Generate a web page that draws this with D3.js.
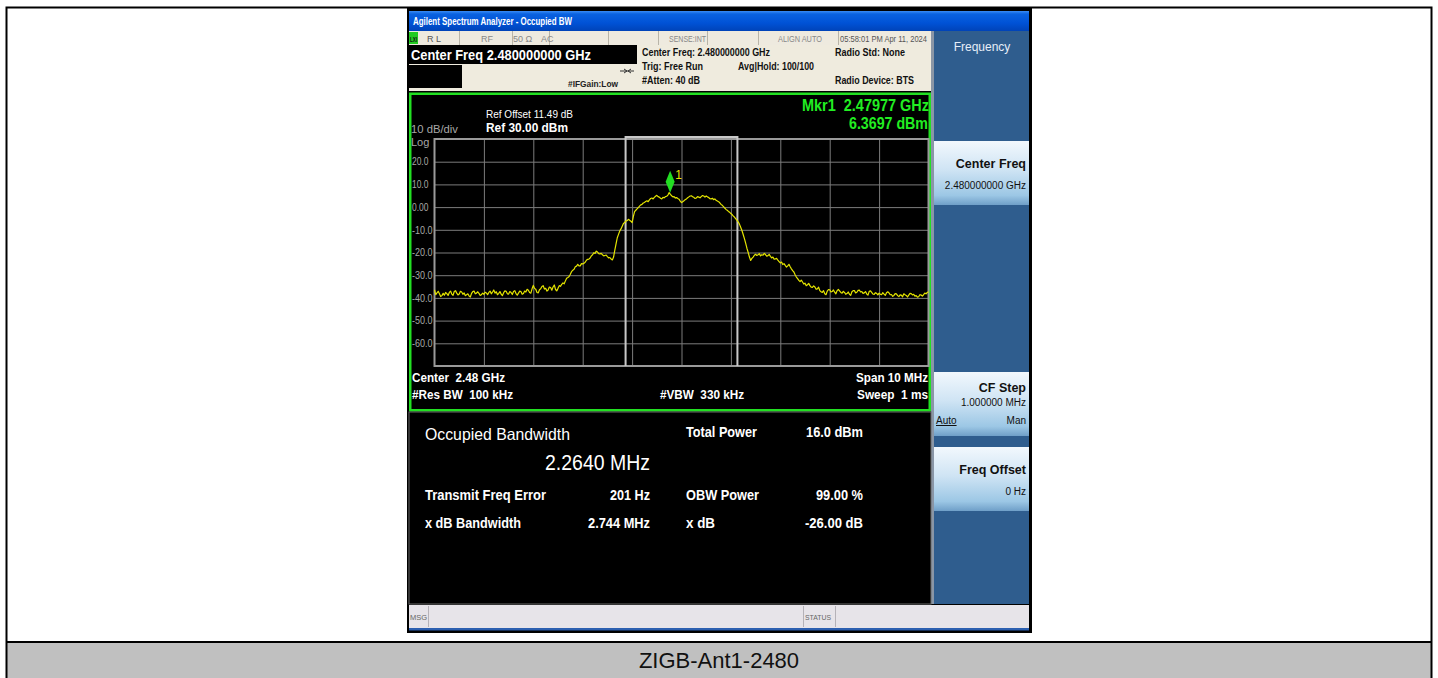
<!DOCTYPE html>
<html><head><meta charset="utf-8">
<script src="https://cdn.jsdelivr.net/npm/d3@7"></script>
<style>html,body{margin:0;padding:0;background:#fff;}svg{display:block;}</style>
</head><body>
<svg id="c" width="1438" height="678"></svg>
<script>
// ---------------- data ----------------
const centerFreqGHz = 2.48;
const spanMHz = 10;
const refLevelDbm = 30;
const dbPerDiv = 10;
const yTickValues = [20, 10, 0, -10, -20, -30, -40, -50, -60];
const yTickLabels = ["20.0", "10.0", "0.00", "-10.0", "-20.0", "-30.0", "-40.0", "-50.0", "-60.0"];
const xGridMHz = [-4, -3, -2, -1, 0, 1, 2, 3, 4];
const sweepStartMHz = -5;
const sweepStepMHz = 0.025;
// trace level (dBm) per sweep point
const traceDbm = [
  -36.5, -38.6, -37.8, -37.1, -38.2, -39.4, -39.0, -38.0, -38.8, -37.6, -38.1, -38.9, -37.6, -37.0, -38.3, -38.9, -37.2, -36.8, -37.9, -38.7,
  -38.3, -37.1, -37.4, -38.4, -37.8, -39.0, -38.6, -38.2, -39.2, -39.6, -38.0, -37.2, -37.0, -38.2, -37.9, -37.3, -38.0, -38.9, -38.6, -37.9,
  -38.4, -37.5, -37.8, -38.6, -37.6, -37.0, -38.2, -37.4, -36.5, -37.9, -37.3, -38.6, -38.0, -37.2, -38.4, -39.0, -37.7, -36.9, -37.1, -38.2,
  -38.3, -37.2, -37.6, -38.5, -37.2, -36.8, -38.1, -38.8, -37.9, -37.0, -37.2, -38.4, -38.1, -37.0, -37.4, -36.2, -36.6, -37.6, -37.9, -36.0,
  -34.5, -35.8, -36.2, -37.6, -37.8, -36.4, -36.0, -35.0, -34.6, -36.1, -35.8, -37.0, -36.5, -35.2, -35.4, -36.6, -35.2, -34.3, -36.3, -36.9,
  -35.8, -34.6, -34.9, -34.0, -33.4, -33.8, -32.5, -31.3, -31.0, -30.6, -29.6, -28.4, -27.8, -27.4, -26.3, -26.0, -25.2, -25.9, -25.9, -24.9,
  -25.0, -24.8, -24.3, -23.4, -23.0, -22.9, -22.4, -21.5, -21.0, -20.1, -20.4, -19.4, -19.8, -20.5, -20.6, -20.4, -21.0, -21.5, -21.3, -21.1,
  -21.8, -22.4, -22.2, -22.9, -23.3, -22.0, -19.0, -16.2, -13.5, -12.0, -10.5, -9.6, -8.4, -7.2, -6.8, -6.1, -6.0, -5.4, -5.8, -6.2,
  -6.8, -4.2, -2.0, -1.4, -0.8, -0.2, 0.4, 1.0, 1.2, 1.8, 2.0, 2.5, 2.8, 2.4, 3.2, 3.8, 4.0, 3.6, 4.3, 4.8,
  5.2, 4.6, 4.4, 3.9, 3.6, 4.3, 4.1, 4.6, 4.8, 5.3, 6.37, 5.6, 5.0, 4.5, 4.6, 4.0, 4.2, 3.8, 3.5, 2.6,
  2.0, 2.4, 2.8, 3.3, 3.6, 4.1, 4.5, 4.9, 5.0, 4.6, 4.3, 3.8, 4.0, 4.6, 4.4, 4.1, 4.6, 5.1, 4.9, 4.4,
  4.9, 4.5, 4.2, 3.7, 3.6, 3.9, 3.3, 3.6, 3.0, 2.7, 2.4, 1.9, 1.2, 0.8, 0.2, -0.4, -1.0, -1.4, -1.9, -2.3,
  -2.8, -3.3, -4.0, -4.5, -5.2, -5.9, -6.6, -7.6, -9.0, -10.4, -12.2, -14.0, -16.0, -18.2, -20.0, -22.0, -23.5, -22.6, -22.0, -21.2,
  -20.8, -21.3, -21.0, -20.5, -21.5, -21.0, -21.2, -20.4, -20.9, -21.6, -21.4, -20.8, -21.7, -22.4, -22.0, -22.9, -22.8, -22.6, -23.4, -24.0,
  -24.6, -24.2, -25.3, -24.9, -25.7, -26.4, -25.9, -25.2, -26.3, -27.2, -28.0, -28.6, -29.8, -30.8, -31.5, -32.3, -32.8, -32.2, -33.0, -33.9,
  -33.5, -34.6, -34.2, -33.6, -34.6, -35.3, -35.4, -34.7, -35.2, -36.2, -36.0, -35.3, -36.8, -37.3, -37.6, -36.8, -38.2, -38.6, -37.0, -36.3,
  -36.4, -37.4, -37.2, -36.5, -37.5, -38.2, -36.8, -36.3, -36.9, -37.6, -37.9, -37.1, -37.6, -38.4, -38.1, -37.4, -38.4, -38.9, -37.3, -36.8,
  -36.8, -37.8, -37.5, -36.7, -36.6, -37.4, -37.2, -38.0, -37.8, -37.2, -38.3, -38.8, -37.1, -36.9, -37.6, -38.3, -38.5, -37.7, -38.0, -38.7,
  -37.9, -38.4, -38.6, -37.7, -38.3, -38.9, -37.7, -37.3, -37.8, -38.6, -38.5, -39.3, -38.9, -38.1, -38.2, -39.0, -39.4, -38.7, -38.8, -39.5,
  -38.2, -38.6, -38.9, -39.6, -38.8, -38.0, -38.1, -38.7, -38.4, -39.2, -39.0, -39.7, -39.5, -38.6, -38.7, -39.2, -38.6, -37.9, -38.2, -37.6,
  -37.3
];
const markerFreqGHz = 2.47977;
const markerDbm = 6.3697;
const obwMHz = 2.2640;

const metricLabelsLeft = ["Transmit Freq Error", "x dB Bandwidth"];
const metricValuesLeft = ["201 Hz", "2.744 MHz"];
const metricLabelsRight = ["Total Power", "OBW Power", "x dB"];
const metricValuesRight = ["16.0 dBm", "99.00 %", "-26.00 dB"];
const softkeyTitles = ["Center Freq", "CF Step", "Freq Offset"];
const softkeyValues = ["2.480000000 GHz", "1.000000 MHz", "0 Hz"];
const captionText = "ZIGB-Ant1-2480";

// ---------------- drawing ----------------
const svg = d3.select("#c");
const SANS = "'Liberation Sans', Arial, sans-serif";
function txt(g, x, y, s, o = {}) {
  const e = g.append("text").attr("x", x).attr("y", y).text(s)
    .attr("font-family", o.ff || SANS).attr("font-size", o.fs || 12)
    .attr("fill", o.c || "#000");
  if (o.b) e.attr("font-weight", o.b === true ? "bold" : o.b);
  if (o.a) e.attr("text-anchor", o.a);
  if (o.len) e.attr("textLength", o.len).attr("lengthAdjust", "spacingAndGlyphs");
  return e;
}
const defs = svg.append("defs");
function grad(id, stops) {
  const lg = defs.append("linearGradient").attr("id", id).attr("x1", 0).attr("y1", 0).attr("x2", 0).attr("y2", 1);
  stops.forEach(s => lg.append("stop").attr("offset", s[0]).attr("stop-color", s[1]));
}
grad("title", [[0, "#3a8cf5"], [0.15, "#0a62e0"], [0.6, "#0052d6"], [1, "#0043b8"]]);
grad("btn", [[0, "#f2f8fd"], [0.45, "#cfe4f4"], [0.85, "#9cc7e5"], [1, "#6f9fc8"]]);

// outer table
svg.append("rect").attr("x", 6).attr("y", 642).attr("width", 1426).attr("height", 40).attr("fill", "#c0c0c0");
svg.append("rect").attr("x", 6.5).attr("y", 7.5).attr("width", 1425).attr("height", 680).attr("fill", "none").attr("stroke", "#000").attr("stroke-width", 2);
svg.append("line").attr("x1", 6).attr("x2", 1432).attr("y1", 642).attr("y2", 642).attr("stroke", "#000").attr("stroke-width", 2);
txt(svg, 719, 668, captionText, { fs: 22, a: "middle", c: "#111" });

// screenshot base
svg.append("rect").attr("x", 407).attr("y", 8).attr("width", 625).attr("height", 625).attr("fill", "#000");
// title bar
svg.append("rect").attr("x", 409).attr("y", 11).attr("width", 620).attr("height", 20).attr("fill", "url(#title)");
txt(svg, 413, 25, "Agilent Spectrum Analyzer - Occupied BW", { fs: 10.5, b: true, c: "#fff", len: 159 });

// status row
const st = svg.append("g");
st.append("rect").attr("x", 409).attr("y", 31).attr("width", 523).attr("height", 14).attr("fill", "#eeeadf");
[459, 512, 549, 608, 658, 707, 758, 838].forEach(x =>
  st.append("line").attr("x1", x + 0.5).attr("x2", x + 0.5).attr("y1", 31).attr("y2", 45).attr("stroke", "#b8b4a8"));
st.append("rect").attr("x", 409).attr("y", 32).attr("width", 9).attr("height", 12).attr("fill", "#22cc22");
txt(st, 410, 42, "LXI", { fs: 8, b: true, c: "#111", len: 7 });
txt(st, 427, 42, "R L", { fs: 9, c: "#555" });
txt(st, 481, 42, "RF", { fs: 9, c: "#888" });
txt(st, 513, 42, "50 Ω", { fs: 9, c: "#888" });
txt(st, 541, 42, "AC", { fs: 9, c: "#888" });
txt(st, 706, 42, "SENSE:INT", { fs: 8.5, c: "#888", a: "end", len: 37 });
txt(st, 778, 42, "ALIGN AUTO", { fs: 8.5, c: "#888", len: 44 });
txt(st, 840, 42, "05:58:01 PM Apr 11, 2024", { fs: 8.5, c: "#555", len: 87 });

// header
const hd = svg.append("g");
hd.append("rect").attr("x", 409).attr("y", 45).attr("width", 523).attr("height", 46).attr("fill", "#efebde");
hd.append("rect").attr("x", 409).attr("y", 45).attr("width", 228).attr("height", 19).attr("fill", "#000");
hd.append("rect").attr("x", 409).attr("y", 65).attr("width", 53).attr("height", 23).attr("fill", "#000");
txt(hd, 411, 60, "Center Freq " + centerFreqGHz.toFixed(9) + " GHz", { fs: 15, b: 600, c: "#fff", len: 180 });
txt(hd, 568, 87, "#IFGain:Low", { fs: 9.5, b: true, c: "#222", len: 50 });
hd.append("path").attr("d", "M620,71 h14 M624,69 l3,2 l-3,2 M631,69 l-3,2 l3,2").attr("stroke", "#333").attr("fill", "none");
const hfs = { fs: 10, b: true, c: "#111" };
txt(hd, 642, 56, "Center Freq: 2.480000000 GHz", { ...hfs, len: 128 });
txt(hd, 642, 70, "Trig: Free Run", { ...hfs, len: 61 });
txt(hd, 642, 84, "#Atten: 40 dB", { ...hfs, len: 58 });
txt(hd, 738, 70, "Avg|Hold: 100/100", { ...hfs, len: 76 });
txt(hd, 835, 56, "Radio Std: None", { ...hfs, len: 70 });
txt(hd, 835, 84, "Radio Device: BTS", { ...hfs, len: 79 });

// right softkey panel
const rp = svg.append("g");
rp.append("rect").attr("x", 932).attr("y", 31).attr("width", 97).attr("height", 573).attr("fill", "#2f5d8e");
rp.append("rect").attr("x", 931).attr("y", 31).attr("width", 3).attr("height", 573).attr("fill", "#8a96a6");
txt(rp, 982, 51, "Frequency", { fs: 12, c: "#e6eef8", a: "middle" });
const btnTops = [141, 372, 447];
btnTops.forEach((top, i) => {
  rp.append("rect").attr("x", 934).attr("y", top).attr("width", 95).attr("height", 64).attr("fill", "url(#btn)");
  txt(rp, 1026, top + (i === 1 ? 20 : 27), softkeyTitles[i], { fs: 12.5, b: true, c: "#111", a: "end" });
  txt(rp, 1026, top + (i === 1 ? 34 : 48), softkeyValues[i], { fs: 10, c: "#111", a: "end" });
});
txt(rp, 936, 424, "Auto", { fs: 10, c: "#111" }).attr("text-decoration", "underline");
txt(rp, 1026, 424, "Man", { fs: 10, c: "#111", a: "end" });

// plot frame
const pf = svg.append("g");
pf.append("rect").attr("x", 410.25).attr("y", 93.75).attr("width", 519.5).attr("height", 316.5)
  .attr("fill", "#000").attr("stroke", "#22e022").attr("stroke-width", 2.5);

const x = d3.scaleLinear().domain([-spanMHz / 2, spanMHz / 2]).range([434.5, 928.5]);
const y = d3.scaleLinear().domain([refLevelDbm - 10 * dbPerDiv, refLevelDbm]).range([366, 139]);

// grid via axes
const gy = pf.append("g").attr("transform", `translate(${x.range()[0]},0)`)
  .call(d3.axisLeft(y).tickValues(yTickValues).tickSize(-(x.range()[1] - x.range()[0]))
    .tickPadding(2).tickFormat((d, i) => yTickLabels[i]));
gy.select(".domain").remove();
gy.selectAll(".tick line").attr("stroke", "#7c7c7c").attr("stroke-width", 1);
gy.selectAll(".tick text").attr("fill", "#a8a8a8").attr("font-family", SANS).attr("font-size", 10)
  .attr("text-anchor", "start").attr("x", 412 - x.range()[0]).attr("textLength", function(){ return this.textContent.length * 4.1; })
  .attr("lengthAdjust", "spacingAndGlyphs");
const gx = pf.append("g").attr("transform", `translate(0,${y.range()[0]})`)
  .call(d3.axisBottom(x).tickValues(xGridMHz).tickSize(-(y.range()[0] - y.range()[1])).tickFormat(""));
gx.select(".domain").remove();
gx.selectAll(".tick line").attr("stroke", "#7c7c7c").attr("stroke-width", 1);
pf.append("rect").attr("x", x.range()[0]).attr("y", y.range()[1]).attr("width", x.range()[1] - x.range()[0])
  .attr("height", y.range()[0] - y.range()[1]).attr("fill", "none").attr("stroke", "#9a9a9a").attr("stroke-width", 2);

// OBW bars
const obwL = x(-obwMHz / 2), obwR = x(obwMHz / 2);
pf.append("path").attr("d", `M${obwL},${y.range()[0]} V${y.range()[1] - 2} H${obwR} V${y.range()[0]}`)
  .attr("fill", "none").attr("stroke", "#c8c8c8").attr("stroke-width", 2);

// trace
const line = d3.line().x((d, i) => x(sweepStartMHz + i * sweepStepMHz)).y(d => y(d));
pf.append("path").datum(traceDbm).attr("d", line).attr("fill", "none")
  .attr("stroke", "#e4e400").attr("stroke-width", 1.2).attr("stroke-linejoin", "round");

// marker
const mx = x((markerFreqGHz - centerFreqGHz) * 1000), my = y(markerDbm);
pf.append("path").attr("d", `M${mx},${my} L${mx + 4.5},${my - 11} L${mx},${my - 22} L${mx - 4.5},${my - 11} Z`).attr("fill", "#22dd22");
txt(pf, mx + 5, my - 14, "1", { fs: 12, c: "#e8e800" });

// plot annotations
txt(pf, 486, 118, "Ref Offset 11.49 dB", { fs: 11, c: "#fff", len: 87 });
txt(pf, 486, 132, "Ref " + refLevelDbm.toFixed(2) + " dBm", { fs: 13, b: true, c: "#fff", len: 82 });
txt(pf, 411, 133, dbPerDiv + " dB/div", { fs: 11, c: "#a8a8a8", len: 47 });
txt(pf, 411, 146, "Log", { fs: 11, c: "#a8a8a8" });
txt(pf, 929, 111, "Mkr1  " + markerFreqGHz.toFixed(5) + " GHz", { fs: 16, b: true, c: "#22ee22", a: "end", len: 127 }).attr("xml:space", "preserve");
txt(pf, 928, 129, markerDbm.toFixed(4) + " dBm", { fs: 16, b: true, c: "#22ee22", a: "end", len: 79 });
const bfs = { fs: 13, b: true, c: "#fff" };
txt(pf, 412, 382, "Center  " + centerFreqGHz + " GHz", { ...bfs, len: 93 }).attr("xml:space", "preserve");
txt(pf, 412, 399, "#Res BW  100 kHz", { ...bfs, len: 101 }).attr("xml:space", "preserve");
txt(pf, 660, 399, "#VBW  330 kHz", { ...bfs, len: 84 }).attr("xml:space", "preserve");
txt(pf, 928, 382, "Span " + spanMHz + " MHz", { ...bfs, a: "end", len: 72 });
txt(pf, 928, 399, "Sweep  1 ms", { ...bfs, a: "end", len: 71 }).attr("xml:space", "preserve");

// metrics panel
const mp = svg.append("g");
mp.append("rect").attr("x", 409).attr("y", 412).attr("width", 522).attr("height", 192).attr("fill", "#000")
  .attr("stroke", "#6a6a6a").attr("stroke-width", 1);
txt(mp, 425, 440, "Occupied Bandwidth", { fs: 16.5, c: "#fff", len: 145 });
txt(mp, 650, 470, obwMHz.toFixed(4) + " MHz", { fs: 22, c: "#fff", a: "end", len: 105 });
const lfs = { fs: 14, b: true, c: "#fff" };
txt(mp, 686, 437, metricLabelsRight[0], { ...lfs, len: 71 });
txt(mp, 806, 437, metricValuesRight[0], { ...lfs, len: 57 });
txt(mp, 425, 500, metricLabelsLeft[0], { ...lfs, len: 121 });
txt(mp, 650, 500, metricValuesLeft[0], { ...lfs, a: "end", len: 40 });
txt(mp, 686, 500, metricLabelsRight[1], { ...lfs, len: 73 });
txt(mp, 863, 500, metricValuesRight[1], { ...lfs, a: "end", len: 47 });
txt(mp, 425, 528, metricLabelsLeft[1], { ...lfs, len: 96 });
txt(mp, 650, 528, metricValuesLeft[1], { ...lfs, a: "end", len: 62 });
txt(mp, 686, 528, metricLabelsRight[2], { ...lfs, len: 29 });
txt(mp, 863, 528, metricValuesRight[2], { ...lfs, a: "end", len: 58 });

// message bar
const mb = svg.append("g");
mb.append("rect").attr("x", 409).attr("y", 605).attr("width", 620).attr("height", 23).attr("fill", "#e7e4e9");
mb.append("rect").attr("x", 409).attr("y", 628).attr("width", 620).attr("height", 2.5).attr("fill", "#2c5fb0");
[428, 803, 835].forEach(xx => mb.append("line").attr("x1", xx + 0.5).attr("x2", xx + 0.5).attr("y1", 606).attr("y2", 627).attr("stroke", "#b5b2b8"));
txt(mb, 410, 620, "MSG", { fs: 7.5, c: "#666" });
txt(mb, 805, 620, "STATUS", { fs: 7.5, c: "#666", len: 26 });
</script>
</body></html>
